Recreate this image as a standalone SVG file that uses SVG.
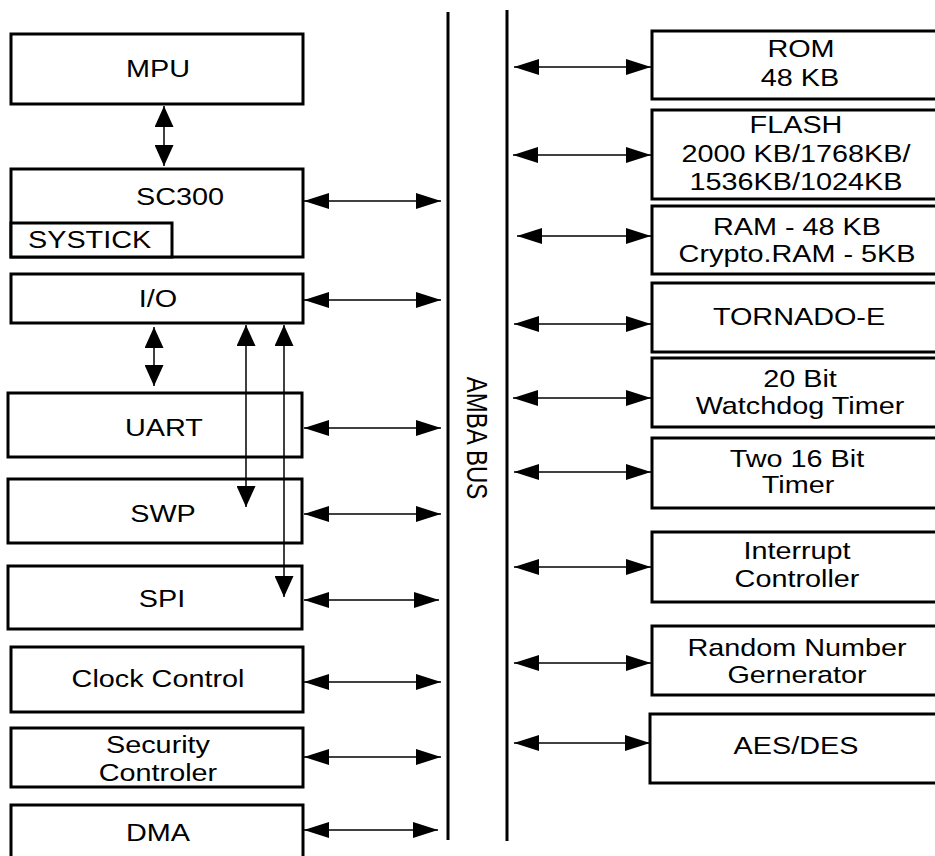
<svg xmlns="http://www.w3.org/2000/svg" width="935" height="856" viewBox="0 0 935 856">
<style>
.box{fill:#fff;stroke:#000;stroke-width:3}
.t{font-family:"Liberation Sans",Arial,sans-serif;font-size:24px;fill:#000;text-anchor:middle}
.tl{font-family:"Liberation Sans",Arial,sans-serif;font-size:24px;fill:#000;text-anchor:start}
.bus{stroke:#000;stroke-width:3;fill:none}
.h{stroke:#000;stroke-width:1.5;fill:none;marker-start:url(#ah);marker-end:url(#ah)}
.v{stroke:#000;stroke-width:1.5;fill:none;marker-start:url(#av);marker-end:url(#av)}
</style>
<defs>
<marker id="ah" viewBox="0 0 25 16" refX="25" refY="8" markerWidth="25" markerHeight="16" markerUnits="userSpaceOnUse" orient="auto-start-reverse"><path d="M0,0 L25,8 L0,16 Z" fill="#000"/></marker>
<marker id="av" viewBox="0 0 21 19" refX="21" refY="9.5" markerWidth="21" markerHeight="19" markerUnits="userSpaceOnUse" orient="auto-start-reverse"><path d="M0,0 L21,9.5 L0,19 Z" fill="#000"/></marker>
</defs>
<rect width="935" height="856" fill="#fff"/>

<g id="bus">
<line class="bus" x1="448" y1="12" x2="448" y2="840"/>
<line class="bus" x1="507" y1="10" x2="507" y2="841"/>
<text class="t" transform="translate(467,438) rotate(90) scale(1,1.2)">AMBA BUS</text>
</g>

<g id="mpu"><rect class="box" x="11" y="34" width="292" height="70"/><text class="t" transform="translate(158,77) scale(1.2,1)">MPU</text></g>
<g id="sc300"><rect class="box" x="11" y="169" width="292" height="88"/><text class="t" transform="translate(180,205) scale(1.2,1)">SC300</text></g>
<g id="systick"><rect class="box" x="11" y="223" width="161" height="34"/><text class="tl" transform="translate(28,248) scale(1.2,1)">SYSTICK</text></g>
<g id="io"><rect class="box" x="11" y="274" width="292" height="49"/><text class="t" transform="translate(158,307) scale(1.2,1)">I/O</text></g>
<g id="uart"><rect class="box" x="8" y="393" width="294" height="64"/><text class="t" transform="translate(164,436) scale(1.2,1)">UART</text></g>
<g id="swp"><rect class="box" x="8" y="479" width="294" height="64"/><text class="t" transform="translate(163,522) scale(1.2,1)">SWP</text></g>
<g id="spi"><rect class="box" x="8" y="566" width="294" height="63"/><text class="t" transform="translate(162,607) scale(1.2,1)">SPI</text></g>
<g id="clock"><rect class="box" x="11" y="647" width="292" height="65"/><text class="t" transform="translate(158,687) scale(1.2,1)">Clock Control</text></g>
<g id="security"><rect class="box" x="11" y="728" width="292" height="59"/><text class="t" transform="translate(158,753) scale(1.2,1)">Security</text><text class="t" transform="translate(158,781) scale(1.2,1)">Controler</text></g>
<g id="dma"><rect class="box" x="11" y="805" width="292" height="60"/><text class="t" transform="translate(158,841) scale(1.2,1)">DMA</text></g>

<g id="rom"><rect class="box" x="652" y="31" width="300" height="68"/><text class="t" transform="translate(801,57) scale(1.2,1)">ROM</text><text class="t" transform="translate(800,86) scale(1.2,1)">48 KB</text></g>
<g id="flash"><rect class="box" x="652" y="110" width="300" height="89"/><text class="t" transform="translate(796,133) scale(1.2,1)">FLASH</text><text class="t" transform="translate(796,162) scale(1.2,1)">2000 KB/1768KB/</text><text class="t" transform="translate(796,190) scale(1.2,1)">1536KB/1024KB</text></g>
<g id="ram"><rect class="box" x="652" y="206" width="300" height="68"/><text class="t" transform="translate(797,235) scale(1.2,1)">RAM - 48 KB</text><text class="t" transform="translate(797,262) scale(1.2,1)">Crypto.RAM - 5KB</text></g>
<g id="tornado"><rect class="box" x="652" y="283" width="300" height="69"/><text class="t" transform="translate(799,325) scale(1.2,1)">TORNADO-E</text></g>
<g id="watchdog"><rect class="box" x="652" y="358" width="300" height="69"/><text class="t" transform="translate(800,387) scale(1.2,1)">20 Bit</text><text class="t" transform="translate(800,414) scale(1.2,1)">Watchdog Timer</text></g>
<g id="timer16"><rect class="box" x="652" y="438" width="300" height="70"/><text class="t" transform="translate(797,467) scale(1.2,1)">Two 16 Bit</text><text class="t" transform="translate(798,493) scale(1.2,1)">Timer</text></g>
<g id="interrupt"><rect class="box" x="652" y="532" width="300" height="70"/><text class="t" transform="translate(797,559) scale(1.2,1)">Interrupt</text><text class="t" transform="translate(797,587) scale(1.2,1)">Controller</text></g>
<g id="rng"><rect class="box" x="652" y="626" width="300" height="69"/><text class="t" transform="translate(797,656) scale(1.2,1)">Random Number</text><text class="t" transform="translate(797,683) scale(1.2,1)">Gernerator</text></g>
<g id="aes"><rect class="box" x="650" y="714" width="300" height="69"/><text class="t" transform="translate(796,754) scale(1.2,1)">AES/DES</text></g>

<g id="connectors">
<line class="v" x1="164" y1="106" x2="164" y2="166"/>
<line class="v" x1="154" y1="327" x2="154" y2="386"/>
<line class="v" x1="246" y1="325" x2="246" y2="507"/>
<line class="v" x1="284" y1="325" x2="284" y2="597"/>
<line class="h" x1="304" y1="201" x2="441" y2="201"/>
<line class="h" x1="304" y1="300" x2="441" y2="300"/>
<line class="h" x1="304" y1="428" x2="441" y2="428"/>
<line class="h" x1="304" y1="514" x2="441" y2="514"/>
<line class="h" x1="304" y1="600" x2="439" y2="600"/>
<line class="h" x1="304" y1="682" x2="441" y2="682"/>
<line class="h" x1="304" y1="757" x2="441" y2="757"/>
<line class="h" x1="304" y1="830" x2="438" y2="830"/>
<line class="h" x1="514" y1="67" x2="651" y2="67"/>
<line class="h" x1="513" y1="155" x2="651" y2="155"/>
<line class="h" x1="517" y1="236" x2="651" y2="236"/>
<line class="h" x1="514" y1="324" x2="651" y2="324"/>
<line class="h" x1="513" y1="398" x2="651" y2="398"/>
<line class="h" x1="514" y1="472" x2="651" y2="472"/>
<line class="h" x1="514" y1="567" x2="651" y2="567"/>
<line class="h" x1="514" y1="663" x2="651" y2="663"/>
<line class="h" x1="514" y1="743" x2="650" y2="743"/>
</g>
</svg>
